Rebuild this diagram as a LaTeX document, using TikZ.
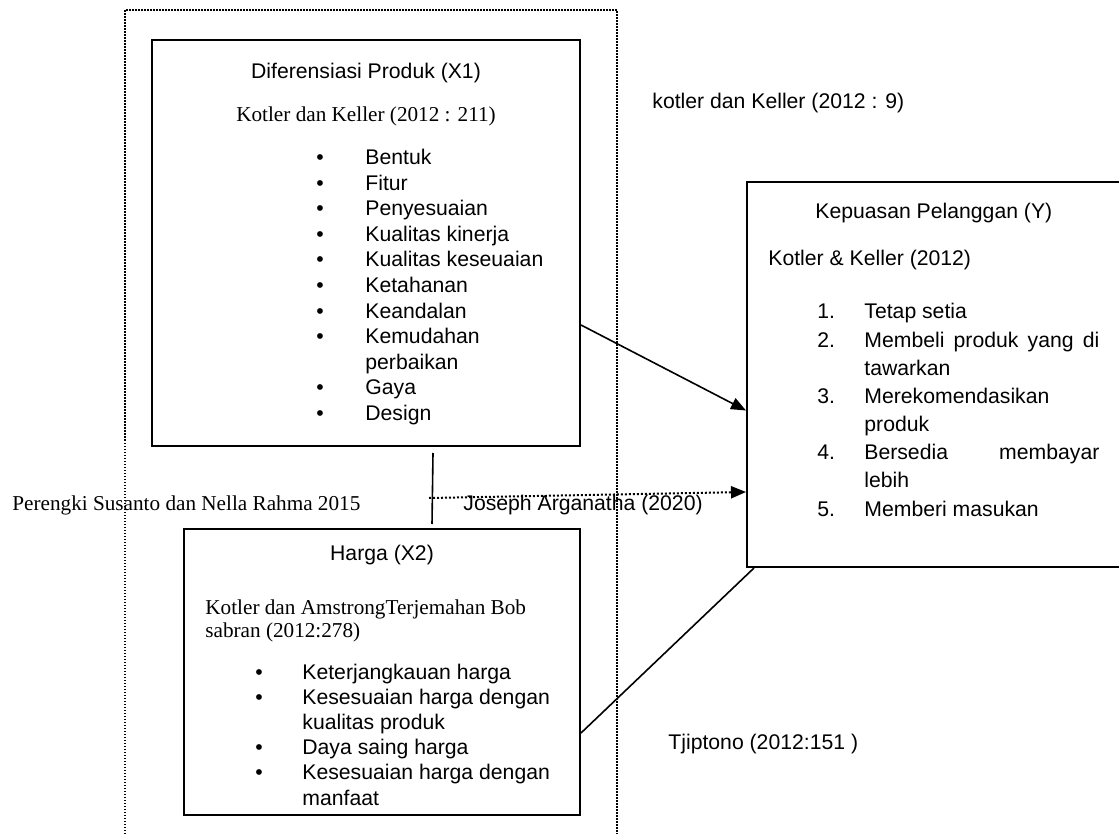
\documentclass[tikz,border=0pt]{standalone}
\usepackage{fontspec}
\setmainfont{Liberation Sans}
\newfontfamily\tnr{Liberation Serif}
\usetikzlibrary{arrows.meta, calc}
\tikzset{
    font={\fontsize{10.6pt}{12.5pt}\selectfont},
    box/.style={draw, line width=1pt, inner sep=0pt},
    txt/.style={anchor=base west, inner sep=0pt},
    ctxt/.style={anchor=base, inner sep=0pt},
    link/.style={line width=0.8pt},
    tip/.style={-{Triangle[length=7.5pt,width=6pt]}},
    }

\begin{document}
\begin{tikzpicture}
    [x=0.5pt, y=-0.5pt]
    \useasboundingbox (0,0) rectangle (1119,834);
    \clip (0,0) rectangle (1119,834);
    \draw[line width=0.75pt, dash pattern=on 0.75pt off 0.75pt]
        (125,900)--(125,10)--(617,10)--(617,900);
    % boxes
    \node[box, minimum width=214pt, minimum height=203pt] (x1) at (366,243) {};
    \node[box, minimum width=198pt, minimum height=143pt] (x2) at (382,672) {};
    \node[box, minimum width=251.5pt, minimum height=192.5pt] (y) at (998.5,374.5) {};
    % X1
    \node[ctxt] (x1title) at (366,79) {Diferensiasi Produk (X1)};
    \node[ctxt] (x1src) at (366,122) {\tnr Kotler dan Keller (2012 : 211)};
    \foreach \k/\t in {0/Bentuk, 1/Fitur, 2/Penyesuaian, 3/Kualitas kinerja,
            4/Kualitas keseuaian, 5/Ketahanan, 6/Keandalan, 7/Kemudahan,
            9/Gaya, 10/Design}
        {
        \node[ctxt] (x1b\k) at (320,164.5+25.6*\k) {•};
        \node[txt] (x1i\k) at (365,164.5+25.6*\k) {\t};
        }
    \node[txt] (x1i8) at (365,164.5+25.6*8) {perbaikan};
    % X2
    \node[ctxt] (x2title) at (382,560) {Harga (X2)};
    \node[txt] (x2src) at (205,614) {\tnr Kotler dan AmstrongTerjemahan Bob};
    \node[txt] (x2src2) at (205,637) {\tnr sabran (2012:278)};
    \foreach \k/\t in {0/Keterjangkauan harga, 1/Kesesuaian harga dengan,
            3/Daya saing harga, 4/Kesesuaian harga dengan}
        {
        \node[ctxt] (x2b\k) at (259,679+25.2*\k) {•};
        \node[txt] (x2i\k) at (302,679+25.2*\k) {\t};
        }
    \node[txt] (x2i2) at (302,679+25.2*2) {kualitas produk};
    \node[txt] (x2i5) at (302,679+25.2*5) {manfaat};
    % Y
    \node[txt] (ytitle) at (815,219) {Kepuasan Pelanggan (Y)};
    \node[txt] (ysrc) at (768,266) {Kotler \& Keller (2012)};
    \foreach \k/\n/\t in {0/1./Tetap setia,
            1/2./\makebox[117.5pt][s]{Membeli produk yang di},
            3/3./Merekomendasikan,
            5/4./\makebox[117.5pt][s]{Bersedia membayar},
            7/5./Memberi masukan}
        {
        \node[txt] (yn\k) at (817,319+28.15*\k) {\n};
        \node[txt] (yi\k) at (864,319+28.15*\k) {\t};
        }
    \node[txt] (yi2) at (864,319+28.15*2) {tawarkan};
    \node[txt] (yi4) at (864,319+28.15*4) {produk};
    \node[txt] (yi6) at (864,319+28.15*6) {lebih};
    % text
    \node[txt] (kotler) at (652,109) {kotler dan Keller (2012 : 9)};
    \node[txt] (perengki) at (12,510) {\tnr Perengki Susanto dan Nella Rahma 2015};
    \node[txt] (joseph) at (463,510) {Joseph Arganatha (2020)};
    \node[txt] (tjiptono) at (668,749) {Tjiptono (2012:151 )};
    % links
    \coordinate (jstart) at (429,498);
    \draw[link] ($(x1.south)+(67,6)$) -- ($(x2.north)+(50,-4)$);
    \draw[link, tip] ($(x1.east)+(0,82)$) -- ($(y.west)+(0,36)$);
    \draw[link, tip, line width=1pt, dash pattern=on 1pt off 1pt]
        (jstart) -- ($(y.west)+(0,117.5)$);
    \draw[link] ($(x2.east)+(0,61)$) -- ($(y.south west)+(8,0)$);
\end{tikzpicture}
\end{document}
